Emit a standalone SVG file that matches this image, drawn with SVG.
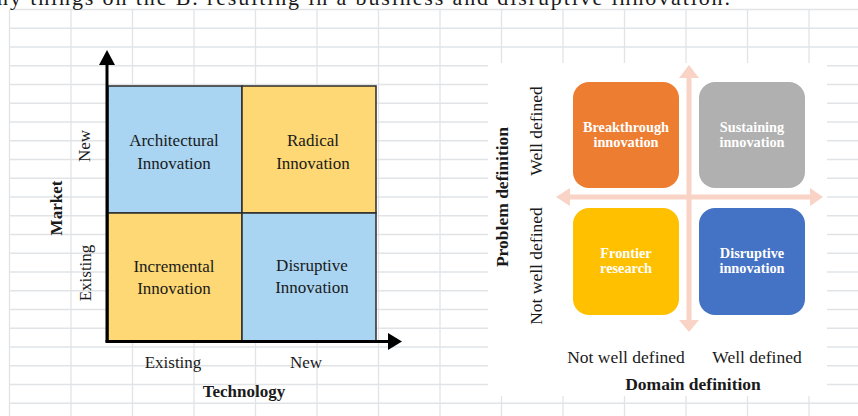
<svg xmlns="http://www.w3.org/2000/svg" width="858" height="416" viewBox="0 0 858 416">
<style>
.grid line{stroke:#e1e4e7;stroke-width:1.3}
.serif{font-family:"Liberation Serif","Times New Roman",serif;fill:#1a1a1a}
.q{font-size:17px;text-anchor:middle}
.ax{font-size:17px;text-anchor:middle}
.b{font-weight:bold}
.bx{font-family:"Liberation Serif","Times New Roman",serif;font-weight:bold;font-size:14.3px;fill:#ffffff;text-anchor:middle}
.cell{stroke:#2b2b2b;stroke-width:1.5}
.peach{fill:#f8d3c6}
</style>
<rect width="858" height="416" fill="#ffffff"/>
<g class="grid" id="grid">
<line x1="9.5" y1="9.5" x2="858" y2="9.5"/><line x1="9.5" y1="28.25" x2="858" y2="28.25"/><line x1="9.5" y1="47" x2="858" y2="47"/><line x1="9.5" y1="65.75" x2="858" y2="65.75"/><line x1="9.5" y1="84.5" x2="858" y2="84.5"/><line x1="9.5" y1="103.25" x2="858" y2="103.25"/><line x1="9.5" y1="122" x2="858" y2="122"/><line x1="9.5" y1="140.75" x2="858" y2="140.75"/><line x1="9.5" y1="159.5" x2="858" y2="159.5"/><line x1="9.5" y1="178.25" x2="858" y2="178.25"/><line x1="9.5" y1="197" x2="858" y2="197"/><line x1="9.5" y1="215.75" x2="858" y2="215.75"/><line x1="9.5" y1="234.5" x2="858" y2="234.5"/><line x1="9.5" y1="253.25" x2="858" y2="253.25"/><line x1="9.5" y1="272" x2="858" y2="272"/><line x1="9.5" y1="290.75" x2="858" y2="290.75"/><line x1="9.5" y1="309.5" x2="858" y2="309.5"/><line x1="9.5" y1="328.25" x2="858" y2="328.25"/><line x1="9.5" y1="347" x2="858" y2="347"/><line x1="9.5" y1="365.75" x2="858" y2="365.75"/><line x1="9.5" y1="384.5" x2="858" y2="384.5"/><line x1="9.5" y1="403.25" x2="858" y2="403.25"/>
<line x1="9.5" y1="9.5" x2="9.5" y2="416"/><line x1="71" y1="9.5" x2="71" y2="416"/><line x1="132.5" y1="9.5" x2="132.5" y2="416"/><line x1="194" y1="9.5" x2="194" y2="416"/><line x1="255.5" y1="9.5" x2="255.5" y2="416"/><line x1="317" y1="9.5" x2="317" y2="416"/><line x1="378.5" y1="9.5" x2="378.5" y2="416"/><line x1="440" y1="9.5" x2="440" y2="416"/><line x1="501.5" y1="9.5" x2="501.5" y2="416"/><line x1="563" y1="9.5" x2="563" y2="416"/><line x1="624.5" y1="9.5" x2="624.5" y2="416"/><line x1="686" y1="9.5" x2="686" y2="416"/><line x1="747.5" y1="9.5" x2="747.5" y2="416"/><line x1="809" y1="9.5" x2="809" y2="416"/>
</g>
<text class="serif" x="-3" y="5" font-size="22" textLength="733" lengthAdjust="spacing">ny things on the B. resulting in a business and disruptive innovation.</text>

<g id="left-matrix">
<g id="architectural"><rect class="cell" x="108" y="86" width="134" height="127" fill="#a9d5f3"/><text class="serif q" x="174" y="146">Architectural</text><text class="serif q" x="174" y="169">Innovation</text></g>
<g id="radical"><rect class="cell" x="242" y="86" width="134" height="127" fill="#fdd874"/><text class="serif q" x="313" y="146">Radical</text><text class="serif q" x="313" y="169">Innovation</text></g>
<g id="incremental"><rect class="cell" x="108" y="213" width="134" height="128" fill="#fdd874"/><text class="serif q" x="174" y="272">Incremental</text><text class="serif q" x="174" y="294">Innovation</text></g>
<g id="disruptive-left"><rect class="cell" x="242" y="213" width="134" height="128" fill="#a9d5f3"/><text class="serif q" x="312" y="271">Disruptive</text><text class="serif q" x="312" y="293">Innovation</text></g>
<g id="left-labels">
<text class="serif ax" transform="translate(90,146) rotate(-90)">New</text>
<text class="serif ax" transform="translate(91,273) rotate(-90)">Existing</text>
<text class="serif ax b" transform="translate(62,208) rotate(-90)">Market</text>
<text class="serif ax" x="173" y="368">Existing</text>
<text class="serif ax" x="306" y="368">New</text>
<text class="serif ax b" x="244" y="397">Technology</text>
</g>
</g>

<g id="right-matrix">
<rect x="488" y="63" width="339" height="333" fill="#ffffff"/>
<g id="breakthrough"><rect x="573" y="82" width="106" height="106" rx="16" fill="#ed7d31"/><text class="bx" x="626" y="132">Breakthrough</text><text class="bx" x="626" y="147">innovation</text></g>
<g id="sustaining"><rect x="699" y="82" width="106" height="106" rx="16" fill="#b0b0b0"/><text class="bx" x="752" y="132">Sustaining</text><text class="bx" x="752" y="147">innovation</text></g>
<g id="frontier"><rect x="573" y="208" width="106" height="107" rx="16" fill="#ffc000"/><text class="bx" x="626" y="258">Frontier</text><text class="bx" x="626" y="273">research</text></g>
<g id="disruptive-right"><rect x="699" y="208" width="106" height="107" rx="16" fill="#4472c4"/><text class="bx" x="752" y="258">Disruptive</text><text class="bx" x="752" y="273">innovation</text></g>
<g id="right-labels">
<text class="serif ax b" style="font-size:17.5px" transform="translate(508,197) rotate(-90)">Problem definition</text>
<text class="serif ax" style="font-size:17.5px" transform="translate(542,131) rotate(-90)">Well defined</text>
<text class="serif ax" style="font-size:17.5px" transform="translate(542,266) rotate(-90)">Not well defined</text>
<text class="serif ax" style="font-size:17.5px" x="626" y="363">Not well defined</text>
<text class="serif ax" style="font-size:17.5px" x="757" y="363">Well defined</text>
<text class="serif ax b" style="font-size:17.5px" x="693" y="390">Domain definition</text>
</g>
</g>

<g id="connectors">
<line x1="107" y1="342" x2="107" y2="62" stroke="#000" stroke-width="3"/>
<polygon points="107,50 99,65 115,65" fill="#000"/>
<line x1="105.5" y1="341.5" x2="390" y2="341.5" stroke="#000" stroke-width="3"/>
<polygon points="402,341.5 388,333 388,350" fill="#000"/>
<rect class="peach" x="686.5" y="76" width="5" height="246"/>
<polygon class="peach" points="689,65 679,78 699,78"/>
<polygon class="peach" points="689,332 679,320 699,320"/>
<rect class="peach" x="568" y="194.5" width="244" height="5"/>
<polygon class="peach" points="556,197 570,188 570,206"/>
<polygon class="peach" points="823,197 810,188 810,206"/>
</g>
</svg>
